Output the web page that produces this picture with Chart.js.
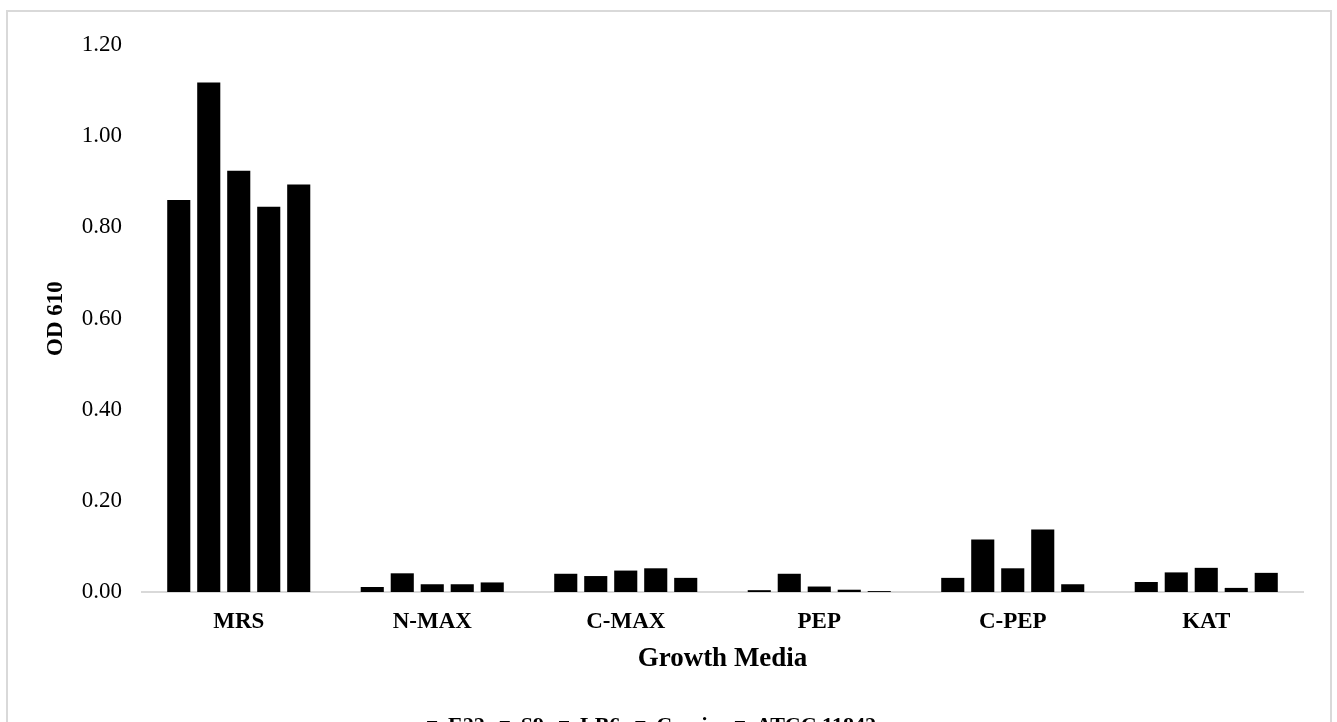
<!DOCTYPE html>
<html>
<head>
<meta charset="utf-8">
<script src="https://cdn.jsdelivr.net/npm/chart.js@4"></script>
<style>
html,body{margin:0;padding:0;overflow:hidden;background:#fff;width:1337px;height:722px;}
#wrap{position:absolute;left:0;top:0;width:1337px;height:770px;}
#frame{position:absolute;left:6px;top:10px;width:1326px;height:800px;border:2px solid #d9d9d9;box-sizing:border-box;}
canvas{position:absolute;left:0;top:0;}
</style>
</head>
<body>
<div id="frame"></div>
<div id="wrap"><canvas id="c" width="1337" height="770"></canvas></div>
<script>
const categories = ["MRS", "N-MAX", "C-MAX", "PEP", "C-PEP", "KAT"];
const seriesNames = ["E22", "S9", "LB6", "Casein", "ATCC 11842"];
const E22    = [0.860, 0.011, 0.040, 0.004, 0.031, 0.022];
const S9     = [1.118, 0.041, 0.035, 0.040, 0.115, 0.043];
const LB6    = [0.924, 0.017, 0.047, 0.012, 0.052, 0.053];
const Casein = [0.845, 0.017, 0.052, 0.005, 0.137, 0.009];
const ATCC   = [0.894, 0.021, 0.031, 0.002, 0.017, 0.042];
const yTicks = [0, 0.2, 0.4, 0.6, 0.8, 1.0, 1.2];

const seriesValues = [E22, S9, LB6, Casein, ATCC];
const FONT = "'Liberation Serif', 'Times New Roman', serif";

const datasets = seriesNames.map((n, i) => ({
  label: n,
  data: seriesValues[i],
  backgroundColor: '#000000',
  borderWidth: 0,
  categoryPercentage: 0.775,
  barPercentage: 0.77
}));

new Chart(document.getElementById('c'), {
  type: 'bar',
  data: { labels: categories, datasets },
  options: {
    responsive: false,
    animation: false,
    layout: { padding: { left: 0, right: 34, top: 45, bottom: 23 } },
    plugins: {
      tooltip: { enabled: false },
      legend: {
        position: 'bottom',
        labels: {
          color: '#000',
          font: { family: FONT, size: 22, weight: 'bold' },
          boxWidth: 10, boxHeight: 10,
          padding: 15
        }
      }
    },
    scales: {
      x: {
        grid: { display: false, drawTicks: false },
        border: { display: true, color: '#d9d9d9', width: 2 },
        ticks: { color: '#000', font: { family: FONT, size: 23, weight: 'bold' }, padding: 16 },
        title: { display: true, text: 'Growth Media', color: '#000', font: { family: FONT, size: 27, weight: 'bold' }, padding: { top: -9, bottom: 25 } }
      },
      y: {
        min: 0, max: 1.2,
        afterBuildTicks: (axis) => { axis.ticks = yTicks.map(v => ({ value: v })); },
        grid: { display: false, drawTicks: false },
        border: { display: false },
        ticks: { color: '#000', font: { family: FONT, size: 23 }, padding: 20, callback: (v) => Number(v).toFixed(2) },
        title: { display: true, text: 'OD 610', color: '#000', font: { family: FONT, size: 23, weight: 'bold' }, padding: { top: 42, bottom: 0 } },
        afterFit: (axis) => { axis.width = 142; }
      }
    }
  }
});
</script>
</body>
</html>
